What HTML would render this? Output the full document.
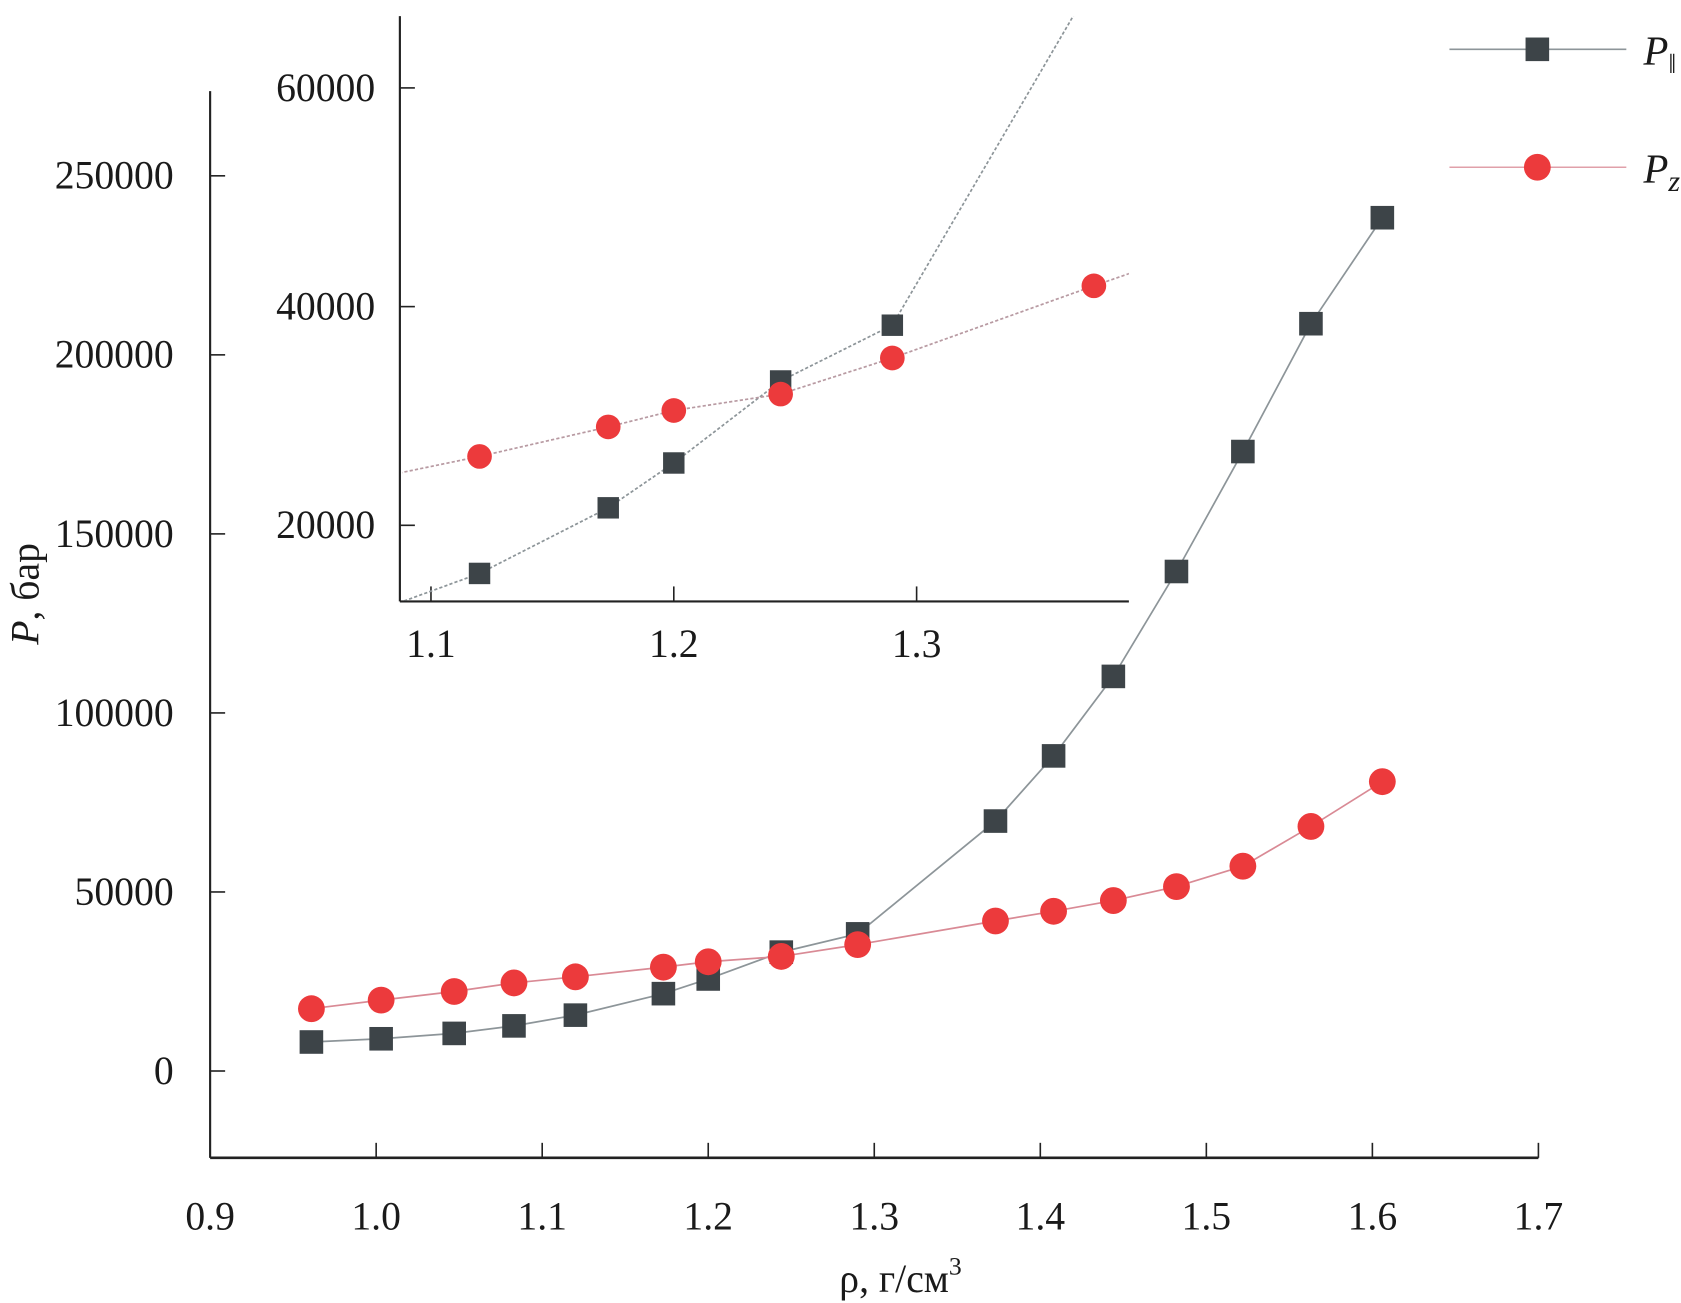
<!DOCTYPE html>
<html><head><meta charset="utf-8"><style>
html,body{margin:0;padding:0;background:#fff;}
svg{display:block;}
text{font-family:"Liberation Serif","DejaVu Serif",serif;fill:#1a1a1a;}
</style></head><body>
<svg id="chart" width="1681" height="1303" viewBox="0 0 1568 1215.4" preserveAspectRatio="none" xmlns="http://www.w3.org/2000/svg">
<defs><clipPath id="insetClip"><rect x="375" y="15" width="678" height="545"/></clipPath></defs>
<g id="main"></g>
<g id="inset"></g>
<g id="legend">
  <g>
    <line x1="1352" y1="46" x2="1517" y2="46" stroke="#8d9599" stroke-width="1.5"/>
    <rect x="1423" y="35" width="22" height="22" fill="#3d4448"/>
    <text x="1533" y="60" font-size="38" font-style="italic">P<tspan font-style="normal" font-size="26" dy="8">‖</tspan></text>
  </g>
  <g>
    <line x1="1352" y1="156" x2="1517" y2="156" stroke="#e0a0aa" stroke-width="1.5"/>
    <circle cx="1434" cy="156" r="12.5" fill="#ec3a3c"/>
    <text x="1533" y="170" font-size="38" font-style="italic">P<tspan font-size="28" dy="8">z</tspan></text>
  </g>
</g>
</svg>
<script>
const rho = [0.961,1.003,1.047,1.083,1.120,1.173,1.200,1.244,1.290,1.373,1.408,1.444,1.482,1.522,1.563,1.606];
const pPar = [8100,9000,10500,12600,15600,21600,25700,33200,38300,69800,88000,110200,139500,173000,208700,238300];
const pZ = [17400,19800,22200,24600,26300,29000,30500,32000,35300,41900,44600,47600,51500,57200,68300,80800];
const xTicks = ["0.9","1.0","1.1","1.2","1.3","1.4","1.5","1.6","1.7"];
const yTicks = ["0","50000","100000","150000","200000","250000"];
const insetXTicks = ["1.1","1.2","1.3"];
const insetYTicks = ["20000","40000","60000"];

const NS="http://www.w3.org/2000/svg";
function mk(tag,attrs,parent){const e=document.createElementNS(NS,tag);for(const k in attrs)e.setAttribute(k,attrs[k]);parent.appendChild(e);return e;}
// main axes
const mx=v=>196+(v-0.9)/0.8*1239;
const my=v=>999-v/50000*167;
// inset axes
const ix=v=>402+(v-1.1)/0.1*226.5;
const iy=v=>490-(v-20000)/20000*204;

const main=document.getElementById('main');
let a=mk('line',{x1:196,y1:85,x2:196,y2:1080,stroke:'#222','stroke-width':2},main);


a=mk('line',{x1:196,y1:1080,x2:1435,y2:1080,stroke:'#222','stroke-width':2.5},main);


xTicks.forEach(t=>{const v=parseFloat(t),x=mx(v);
  if(v>0.95){const l=mk('line',{x1:x,y1:1080,x2:x,y2:1066,stroke:'#222','stroke-width':1.5},main);
  
  }
  const tx=mk('text',{x:x,y:1147,'font-size':37,'text-anchor':'middle'},main);tx.textContent=t;
  
  
});
yTicks.forEach(t=>{const v=parseFloat(t),y=my(v);
  const l=mk('line',{x1:196,y1:y,x2:210,y2:y,stroke:'#222','stroke-width':1.5},main);
  
  
  const tx=mk('text',{x:162,y:y+12,'font-size':37,'text-anchor':'end'},main);tx.textContent=t;
  
  
});
let xl=mk('text',{x:840,y:1205,'font-size':37,'text-anchor':'middle'},main);
xl.innerHTML='ρ, г/см<tspan font-size="24" dy="-16">3</tspan>';


let yl=mk('text',{x:0,y:0,'font-size':37,'text-anchor':'middle',transform:'translate(36,554) rotate(-90)'},main);
yl.innerHTML='<tspan font-style="italic">P</tspan>, бар';



function series(parent,fx,fy,vals,lineColor,kind,dash,sz,name){
  const pts=rho.map((r,i)=>fx(r)+','+fy(vals[i])).join(' ');
  const pl=mk('polyline',{points:pts,fill:'none',stroke:lineColor,'stroke-width':1.6},parent);
  if(dash)pl.setAttribute('stroke-dasharray',dash);
  
  
  rho.forEach((r,i)=>{let m;
    if(kind==='sq')m=mk('rect',{x:fx(r)-sz,y:fy(vals[i])-sz,width:2*sz,height:2*sz,fill:'#3d4448'},parent);
    else m=mk('circle',{cx:fx(r),cy:fy(vals[i]),r:sz+1.5,fill:'#ec3a3c'},parent);
    
    
  });
}
series(main,mx,my,pPar,'#8d9599','sq',null,11,'p-parallel');
series(main,mx,my,pZ,'#d98a95','ci',null,11,'p-z');

const inset=document.getElementById('inset');
a=mk('line',{x1:373,y1:15,x2:373,y2:561,stroke:'#222','stroke-width':2},inset);


a=mk('line',{x1:373,y1:561,x2:1053,y2:561,stroke:'#222','stroke-width':2},inset);


insetXTicks.forEach(t=>{const x=ix(parseFloat(t));
  const l=mk('line',{x1:x,y1:561,x2:x,y2:547,stroke:'#222','stroke-width':1.5},inset);
  
  
  const tx=mk('text',{x:x,y:613,'font-size':37,'text-anchor':'middle'},inset);tx.textContent=t;
  
  
});
insetYTicks.forEach(t=>{const y=iy(parseFloat(t));
  const l=mk('line',{x1:373,y1:y,x2:387,y2:y,stroke:'#222','stroke-width':1.5},inset);
  
  
  const tx=mk('text',{x:350,y:y+12,'font-size':37,'text-anchor':'end'},inset);tx.textContent=t;
  
  
});
const ig=mk('g',{'clip-path':'url(#insetClip)'},inset);


series(ig,ix,iy,pPar,'#8d9599','sq','3 2',10,'inset-p-parallel');
series(ig,ix,iy,pZ,'#b89aa2','ci','3 2',10,'inset-p-z');
</script>
</body></html>
